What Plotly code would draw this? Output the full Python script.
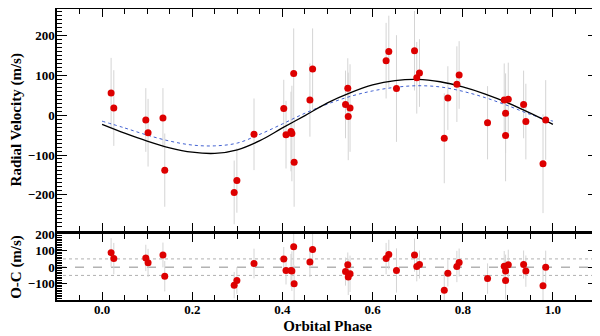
import plotly.graph_objects as go

# observed radial velocities folded on the orbital phase
phase = [0.020, 0.026, 0.097, 0.102, 0.135, 0.139, 0.293, 0.299, 0.337, 0.403,
         0.408, 0.419, 0.421, 0.425, 0.426, 0.461, 0.467, 0.540, 0.545, 0.546,
         0.550, 0.630, 0.636, 0.653, 0.693, 0.698, 0.704, 0.759, 0.767, 0.787,
         0.792, 0.855, 0.892, 0.895, 0.895, 0.901, 0.935, 0.940, 0.978, 0.984]
rv = [56, 18, -12, -44, -7, -138, -194, -164, -48, 17,
      -49, -41, -46, 105, -118, 38, 116, 27, 68, -3,
      18, 137, 160, 67, 162, 94, 106, -58, 43, 78,
      101, -19, 38, 5, -51, 40, 27, -16, -122, -12]
oc = [88, 52, 56, 26, 74, -55, -109, -81, 22, 50,
      -20, -20, -24, 123, -101, 32, 107, -27, 14, -59,
      -40, 52, 76, -20, 73, 4, 16, -140, -37, 4,
      28, -69, 6, -24, -81, 14, 16, -24, -112, 0]
err = [88, 95, 80, 85, 75, 92, 80, 81, 90, 72,
       85, 100, 120, 113, 112, 92, 102, 85, 75, 110,
       110, 95, 90, 134, 100, 90, 85, 113, 80, 95,
       85, 92, 92, 100, 115, 92, 85, 95, 124, 100]

# model curves
model_phase = [0.0, 0.05, 0.1, 0.15, 0.2, 0.25, 0.3, 0.35, 0.4, 0.45, 0.5,
               0.55, 0.6, 0.65, 0.7, 0.75, 0.8, 0.85, 0.9, 0.95, 1.0]
model_fit = [-23, -45, -65, -82, -93, -96, -87, -64, -32, -1, 31,
             56, 76, 87, 90, 84, 71, 53, 31, 5, -23]
model_alt = [-15, -32, -50, -65, -75, -77, -70, -48, -22, 5, 28,
             47, 61, 70, 74, 71, 60, 44, 24, 2, -15]

rms_level = 50

FONT = "Liberation Serif"
RED = "#dd0000"
GREY = "#d4d4d4"

fig = go.Figure()

# error bars first so the curves and points sit on top
fig.add_trace(go.Scatter(x=phase, y=rv, mode="markers", marker=dict(size=0, opacity=0),
                         error_y=dict(type="data", array=err, color=GREY, thickness=1, width=0),
                         xaxis="x", yaxis="y", hoverinfo="skip"))
fig.add_trace(go.Scatter(x=phase, y=oc, mode="markers", marker=dict(size=0, opacity=0),
                         error_y=dict(type="data", array=err, color=GREY, thickness=1, width=0),
                         xaxis="x2", yaxis="y2", hoverinfo="skip"))

fig.add_trace(go.Scatter(x=model_phase, y=model_alt, mode="lines", line_shape="spline",
                         line=dict(color="#4060d0", width=1, dash="dot"),
                         xaxis="x", yaxis="y"))
fig.add_trace(go.Scatter(x=model_phase, y=model_fit, mode="lines", line_shape="spline",
                         line=dict(color="black", width=1.3),
                         xaxis="x", yaxis="y"))

fig.add_trace(go.Scatter(x=phase, y=rv, mode="markers", marker=dict(size=7, color=RED),
                         xaxis="x", yaxis="y"))
fig.add_trace(go.Scatter(x=phase, y=oc, mode="markers", marker=dict(size=7, color=RED),
                         xaxis="x2", yaxis="y2"))

# reference lines in the residual panel
fig.add_shape(type="line", xref="x2 domain", yref="y2", x0=0, x1=1, y0=0, y1=0,
              line=dict(color="#8c8c8c", width=1, dash="dash"), layer="below")
for lvl in (rms_level, -rms_level):
    fig.add_shape(type="line", xref="x2 domain", yref="y2", x0=0, x1=1, y0=lvl, y1=lvl,
                  line=dict(color="#b0b0b0", width=1, dash="dot"), layer="below")

frame = dict(showline=True, linecolor="black", linewidth=1.5, mirror="allticks",
             ticks="inside", tickcolor="black", showgrid=False, zeroline=False,
             automargin=False)
tickfont = dict(family=FONT, size=13, color="black", weight="bold")
titlefont = dict(family=FONT, size=15, color="black", weight="bold")

fig.update_layout(
    width=592, height=328,
    margin=dict(l=49, r=2, t=1, b=36),
    paper_bgcolor="white", plot_bgcolor="white",
    showlegend=False,
    xaxis=dict(domain=[0, 1], range=[-0.1, 1.1], anchor="y", matches="x2",
               showticklabels=False, tick0=0, dtick=0.2, ticklen=8,
               minor=dict(dtick=0.05, ticks="inside", ticklen=5, tickcolor="black"),
               **frame),
    yaxis=dict(domain=[0.2388, 1], range=[-289.7, 266.8], anchor="x",
               dtick=100, ticklen=10, tickfont=tickfont, ticklabelstandoff=-2,
               minor=dict(dtick=10, ticks="inside", ticklen=5, tickcolor="black"),
               title=dict(text="Radial Velocity (m/s)", font=titlefont, standoff=12),
               **frame),
    xaxis2=dict(domain=[0, 1], range=[-0.1, 1.1], anchor="y2",
                tick0=0, dtick=0.2, ticklen=8, tickformat=".1f", tickfont=tickfont,
                ticklabelstandoff=-3,
                minor=dict(dtick=0.05, ticks="inside", ticklen=5, tickcolor="black"),
                title=dict(text="Orbital Phase", font=titlefont, standoff=4),
                **frame),
    yaxis2=dict(domain=[0, 0.2268], range=[-199, 201], anchor="x2",
                dtick=100, ticklen=10, tickfont=tickfont, ticklabelstandoff=-2,
                minor=dict(dtick=10, ticks="inside", ticklen=5, tickcolor="black"),
                title=dict(text="O-C (m/s)", font=titlefont, standoff=12),
                **frame),
)

fig.write_html("out.html")
